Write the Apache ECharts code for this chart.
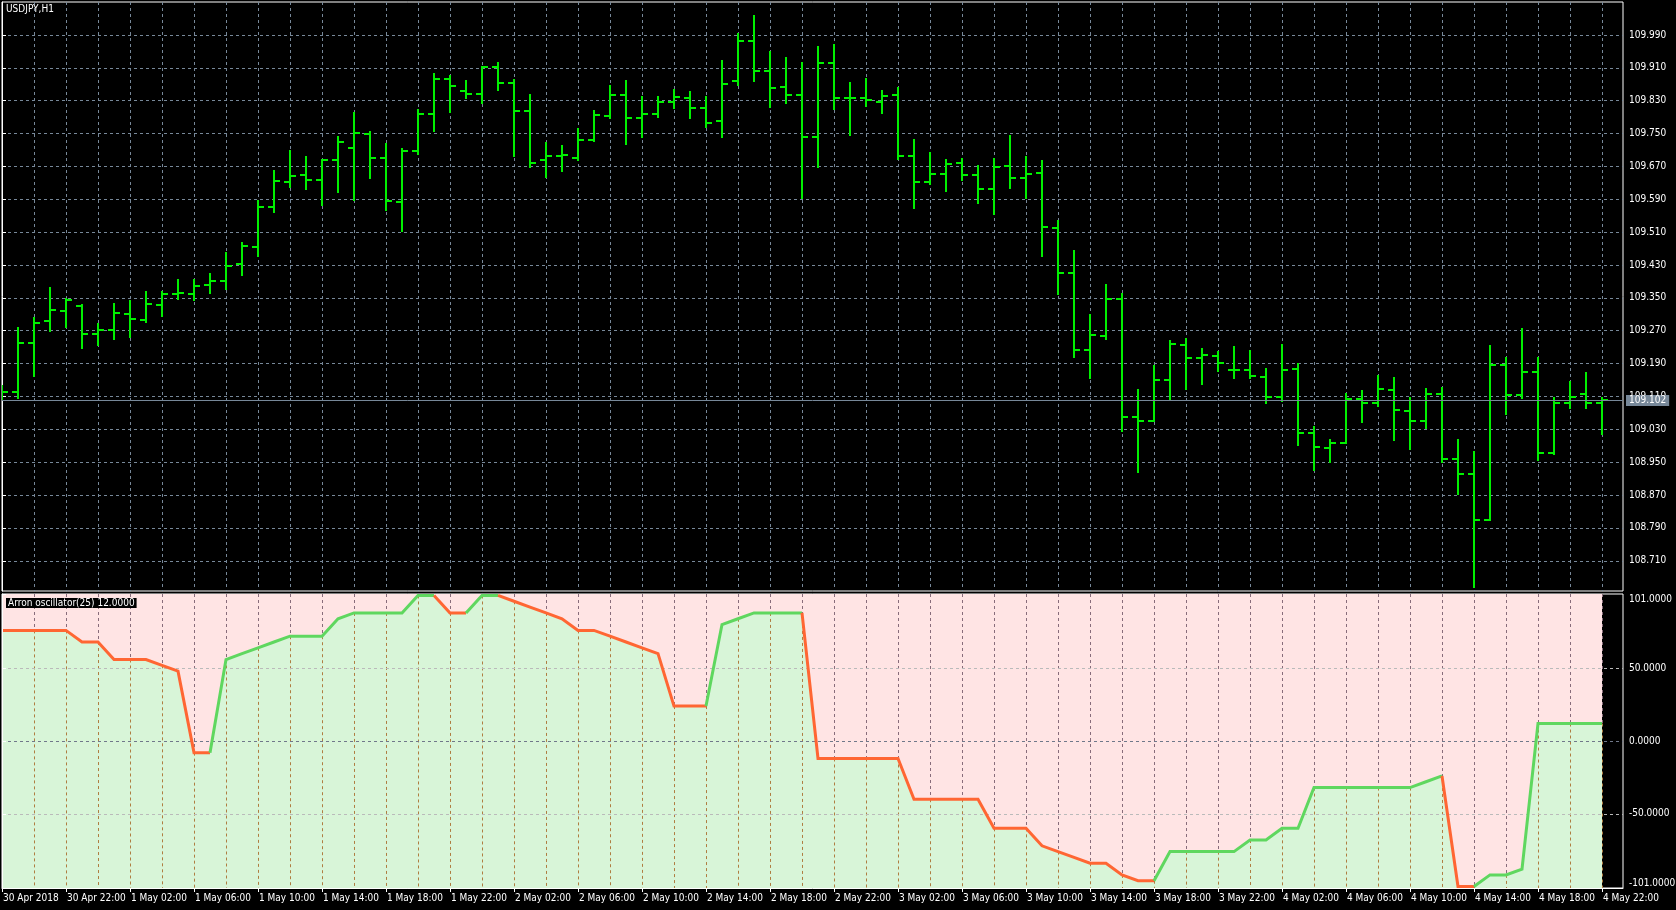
<!DOCTYPE html>
<html>
<head>
<meta charset="utf-8">
<title>USDJPY,H1 - Aroon oscillator</title>
<script src="https://cdn.jsdelivr.net/npm/echarts@6.0.0/dist/echarts.min.js"></script>
<style>
  html, body { margin: 0; padding: 0; background: #000; }
  #chart { width: 1676px; height: 910px; }
</style>
</head>
<body>
<div id="chart"></div>
<script>
// H1 bars, 30 Apr 18:00 .. 4 May 22:00
const opens = [109.118,109.122,109.241,109.294,109.318,109.331,109.261,109.272,109.310,109.295,
  109.333,109.359,109.359,109.381,109.391,109.433,109.474,109.572,109.633,109.648,
  109.636,109.686,109.714,109.749,109.690,109.584,109.707,109.797,109.883,109.853,
  109.847,109.913,109.873,109.806,109.686,109.695,109.691,109.734,109.792,109.843,
  109.788,109.797,109.827,109.837,109.812,109.780,109.878,109.976,109.902,109.863,
  109.845,109.742,109.922,109.837,109.837,109.827,109.844,109.695,109.631,109.651,
  109.678,109.649,109.614,109.672,109.643,109.655,109.519,109.411,109.224,109.256,
  109.347,109.059,109.050,109.150,109.235,109.203,109.208,109.175,109.175,109.157,
  109.108,109.177,109.021,108.984,108.997,109.103,109.095,109.126,109.075,109.050,
  109.116,108.958,108.922,108.810,109.187,109.113,109.169,108.972,109.093,109.116,
  109.095];
const highs = [109.135,109.277,109.302,109.373,109.348,109.333,109.287,109.336,109.342,109.365,
  109.365,109.393,109.393,109.408,109.459,109.483,109.586,109.659,109.708,109.693,
  109.686,109.742,109.799,109.755,109.725,109.713,109.808,109.894,109.891,109.879,
  109.913,109.923,109.880,109.845,109.727,109.719,109.762,109.805,109.867,109.879,
  109.840,109.840,109.855,109.852,109.838,109.926,109.993,110.036,109.948,109.933,
  109.922,109.960,109.966,109.874,109.884,109.853,109.861,109.735,109.703,109.686,
  109.689,109.670,109.689,109.745,109.694,109.684,109.538,109.464,109.309,109.382,
  109.360,109.126,109.183,109.246,109.250,109.226,109.218,109.231,109.221,109.178,
  109.236,109.188,109.035,109.004,109.115,109.124,109.161,109.156,109.106,109.127,
  109.130,109.003,108.975,109.233,109.204,109.274,109.204,109.106,109.144,109.166,
  109.107];
const lows = [109.105,109.106,109.161,109.269,109.280,109.227,109.236,109.249,109.254,109.291,
  109.306,109.347,109.346,109.362,109.371,109.406,109.452,109.560,109.619,109.616,
  109.575,109.607,109.589,109.641,109.565,109.514,109.700,109.757,109.802,109.837,
  109.824,109.856,109.695,109.669,109.644,109.660,109.685,109.733,109.789,109.725,
  109.742,109.791,109.813,109.788,109.765,109.742,109.869,109.878,109.815,109.825,
  109.593,109.668,109.810,109.747,109.818,109.800,109.689,109.568,109.628,109.610,
  109.637,109.581,109.554,109.618,109.593,109.451,109.359,109.205,109.155,109.249,
  109.026,108.926,109.050,109.101,109.128,109.140,109.172,109.155,109.155,109.095,
  109.099,108.991,108.931,108.950,108.996,109.048,109.086,109.004,108.981,109.034,
  108.950,108.873,108.647,108.810,109.067,109.106,108.955,108.970,109.083,109.083,
  109.019];
const closes = [109.122,109.241,109.290,109.320,109.345,109.261,109.272,109.312,109.298,109.334,
  109.359,109.361,109.379,109.390,109.428,109.477,109.572,109.635,109.646,109.636,
  109.686,109.729,109.751,109.690,109.586,109.707,109.797,109.883,109.866,109.847,
  109.913,109.873,109.806,109.679,109.695,109.697,109.734,109.795,109.843,109.788,
  109.797,109.827,109.839,109.812,109.775,109.870,109.976,109.902,109.861,109.843,
  109.742,109.922,109.837,109.837,109.832,109.841,109.695,109.633,109.651,109.676,
  109.649,109.614,109.668,109.643,109.651,109.522,109.411,109.224,109.259,109.347,
  109.059,109.050,109.150,109.237,109.203,109.210,109.192,109.175,109.159,109.108,
  109.175,109.021,108.987,108.997,109.103,109.095,109.128,109.077,109.050,109.116,
  108.958,108.921,108.810,109.187,109.113,109.169,108.972,109.093,109.108,109.095,
  109.102];

// Aroon oscillator(25), one value per bar
const aroon = [76,76,76,76,76,68,68,56,56,56,
  52,48,-8,-8,56,60,64,68,72,72,
  72,84,88,88,88,88,100,100,88,88,
  100,100,96,92,88,84,76,76,72,68,
  64,60,24,24,24,80,84,88,88,88,
  88,-12,-12,-12,-12,-12,-12,-40,-40,-40,
  -40,-40,-60,-60,-60,-72,-76,-80,-84,-84,
  -92,-96,-96,-76,-76,-76,-76,-76,-68,-68,
  -60,-60,-32,-32,-32,-32,-32,-32,-32,-28,
  -24,-100,-100,-92,-92,-88,12,12,12,12,
  12];

const priceTicks = [108.710,108.790,108.870,108.950,109.030,109.110,109.190,109.270,109.350,
  109.430,109.510,109.590,109.670,109.750,109.830,109.910,109.990];
const oscTicks = [-101, -50, 0, 50, 101];
const oscLevels = [50, 0, -50];
const timeTicks = [0,4,8,12,16,20,24,28,32,36,40,44,48,52,56,60,64,68,72,76,80,84,88,92,96,100];
const timeLabels = ['30 Apr 2018','30 Apr 22:00','1 May 02:00','1 May 06:00','1 May 10:00','1 May 14:00',
  '1 May 18:00','1 May 22:00','2 May 02:00','2 May 06:00','2 May 10:00','2 May 14:00','2 May 18:00',
  '2 May 22:00','3 May 02:00','3 May 06:00','3 May 10:00','3 May 14:00','3 May 18:00','3 May 22:00',
  '4 May 02:00','4 May 06:00','4 May 10:00','4 May 14:00','4 May 18:00','4 May 22:00'];

const FONT = "'DejaVu Sans Condensed', 'Liberation Sans', sans-serif";
const FONT_SIZE = 10;
const BAR_COLOR = '#00f000';
const GRID_COLOR = '#778899';
const PINK = '#ffe4e4';
const GREEN = '#d8f5d8';
const UP_COLOR = '#5fd75f';
const DOWN_COLOR = '#ff6633';

const lastPrice = closes[closes.length - 1];
const lastOsc = aroon[aroon.length - 1];
const xMax = 1621 / 16;

// runs of the oscillator line, coloured by direction
const runs = [];
let up = false;
for (let i = 1; i < aroon.length; i++) {
  if (aroon[i] > aroon[i - 1]) up = true;
  else if (aroon[i] < aroon[i - 1]) up = false;
  const last = runs[runs.length - 1];
  if (last && last.up === up) last.to = i;
  else runs.push({ from: i - 1, to: i, up: up });
}

const gridBars = [];
for (let i = 2; i < aroon.length; i += 2) gridBars.push([i, aroon[i]]);

const renderBar = (params, api) => {
  const i = api.value(0);
  const op = api.coord([i, api.value(1)]);
  const hi = api.coord([i, api.value(2)]);
  const lo = api.coord([i, api.value(3)]);
  const cl = api.coord([i, api.value(4)]);
  const x = Math.round(hi[0]);
  const style = { stroke: BAR_COLOR, lineWidth: 2 };
  return {
    type: 'group',
    children: [
      { type: 'line', shape: { x1: x, y1: Math.round(hi[1]) - 1, x2: x, y2: Math.round(lo[1]) + 1 }, style: style },
      { type: 'line', shape: { x1: x - 6, y1: Math.round(op[1]), x2: x, y2: Math.round(op[1]) }, style: style },
      { type: 'line', shape: { x1: x, y1: Math.round(cl[1]), x2: x + 6, y2: Math.round(cl[1]) }, style: style }
    ]
  };
};

const renderOscGrid = (params, api) => {
  const i = api.value(0);
  const top = api.coord([i, 101]);
  const mid = api.coord([i, api.value(1)]);
  const bot = api.coord([i, -101]);
  const x = Math.round(top[0]) + 0.5;
  return {
    type: 'group',
    children: [
      { type: 'line', shape: { x1: x, y1: top[1], x2: x, y2: mid[1] }, style: { stroke: '#886c7b', lineWidth: 1, lineDash: [3, 3] } },
      { type: 'line', shape: { x1: x, y1: mid[1], x2: x, y2: bot[1] }, style: { stroke: '#af7d41', lineWidth: 1, lineDash: [3, 3] } }
    ]
  };
};

const renderRun = (params, api) => {
  const run = runs[params.dataIndex];
  const points = [];
  for (let k = run.from; k <= run.to; k++) points.push(api.coord([k, aroon[k]]));
  return {
    type: 'polyline',
    shape: { points: points },
    style: { stroke: run.up ? UP_COLOR : DOWN_COLOR, lineWidth: 3, fill: null }
  };
};

const textStyle = { color: '#fff', fontSize: FONT_SIZE, fontFamily: FONT, fontWeight: 'normal' };

const chart = echarts.init(document.getElementById('chart'));
chart.setOption({
  backgroundColor: '#000',
  animation: false,
  title: [
    { text: 'USDJPY,H1', left: 6, top: 4, padding: 0, textStyle: textStyle },
    {
      text: 'Arron oscillator(25) ' + lastOsc.toFixed(4), left: 6, top: 598,
      padding: [0, 2, 0, 2], backgroundColor: '#000', textStyle: textStyle
    }
  ],
  grid: [
    { left: 2, top: 2, width: 1621, height: 589, show: true, borderColor: '#fff', borderWidth: 1, outerBoundsMode: 'none' },
    { left: 2, top: 594, width: 1621, height: 294, show: true, borderColor: '#fff', borderWidth: 1, outerBoundsMode: 'none' }
  ],
  xAxis: [
    {
      type: 'value', gridIndex: 0, min: 0, max: xMax, interval: 2,
      axisLine: { show: false }, axisTick: { show: false }, axisLabel: { show: false },
      splitLine: { show: true, showMinLine: false, showMaxLine: false, lineStyle: { color: GRID_COLOR, type: [3, 3] } }
    },
    {
      type: 'value', gridIndex: 1, min: 0, max: xMax, position: 'bottom', z: 10,
      axisLine: { show: true, onZero: false, lineStyle: { color: '#fff' } },
      axisTick: { show: true, customValues: timeTicks, length: 4, lineStyle: { color: '#fff' } },
      axisLabel: {
        show: true, customValues: timeTicks, margin: 5, align: 'left', padding: [0, 0, 0, 1],
        color: '#fff', fontSize: FONT_SIZE, fontFamily: FONT,
        formatter: (v) => timeLabels[timeTicks.indexOf(Math.round(v))]
      },
      splitLine: { show: false }
    }
  ],
  yAxis: [
    {
      type: 'value', gridIndex: 0, position: 'right', min: 108.6364, max: 110.0703,
      axisLine: { show: true, lineStyle: { color: '#fff' } },
      axisTick: { show: true, customValues: priceTicks, length: 4, lineStyle: { color: '#fff' } },
      axisLabel: {
        show: true, customValues: priceTicks, margin: 6, color: '#fff', fontSize: FONT_SIZE, fontFamily: FONT,
        formatter: (v) => v.toFixed(3)
      },
      splitLine: { show: true, lineStyle: { color: GRID_COLOR, type: [3, 3] } }
    },
    {
      type: 'value', gridIndex: 1, position: 'right', min: -101, max: 101, z: 10,
      axisLine: { show: true, lineStyle: { color: '#fff' } },
      axisTick: { show: true, customValues: oscTicks, length: 4, lineStyle: { color: '#fff' } },
      axisLabel: {
        show: true, customValues: oscTicks, margin: 6, color: '#fff', fontSize: FONT_SIZE, fontFamily: FONT,
        verticalAlignMaxLabel: 'top', verticalAlignMinLabel: 'bottom',
        formatter: (v) => v.toFixed(4)
      },
      splitLine: { show: false }
    }
  ],
  series: [
    {
      name: 'bars', type: 'custom', xAxisIndex: 0, yAxisIndex: 0, clip: true, z: 3,
      renderItem: renderBar,
      encode: { x: 0, y: [1, 2, 3, 4] },
      data: opens.map((o, i) => [i, o, highs[i], lows[i], closes[i]])
    },
    {
      name: 'price', type: 'line', xAxisIndex: 0, yAxisIndex: 0, data: [], z: 4,
      markLine: {
        silent: true, symbol: 'none', animation: false,
        lineStyle: { color: GRID_COLOR, type: 'solid', width: 1 },
        label: {
          position: 'end', distance: 3, formatter: lastPrice.toFixed(3),
          color: '#fff', backgroundColor: GRID_COLOR, padding: [1, 3, 0, 3],
          fontSize: FONT_SIZE, fontFamily: FONT
        },
        data: [{ yAxis: lastPrice }]
      }
    },
    {
      name: 'bg', type: 'line', xAxisIndex: 1, yAxisIndex: 1, z: 1, symbol: 'none',
      lineStyle: { width: 0 }, areaStyle: { color: PINK, opacity: 1, origin: 'start' },
      data: aroon.map((v, i) => [i, 101])
    },
    {
      name: 'fill', type: 'line', xAxisIndex: 1, yAxisIndex: 1, z: 2, symbol: 'none',
      lineStyle: { width: 0 }, areaStyle: { color: GREEN, opacity: 1, origin: 'start' },
      data: aroon.map((v, i) => [i, v]),
      markLine: {
        silent: true, symbol: 'none', animation: false, label: { show: false },
        data: oscLevels.map((v) => ({
          yAxis: v,
          lineStyle: { color: v === 0 ? '#70788a' : '#bababa', type: [3, 3], width: 1 }
        }))
      }
    },
    {
      name: 'oscGrid', type: 'custom', xAxisIndex: 1, yAxisIndex: 1, z: 3,
      renderItem: renderOscGrid, encode: { x: 0, y: 1 }, data: gridBars
    },
    {
      name: 'aroon', type: 'custom', xAxisIndex: 1, yAxisIndex: 1, z: 6, clip: true,
      renderItem: renderRun, encode: { x: [0, 2], y: [1, 3] },
      data: runs.map((r) => [r.from, aroon[r.from], r.to, aroon[r.to]])
    }
  ]
});
</script>
</body>
</html>
